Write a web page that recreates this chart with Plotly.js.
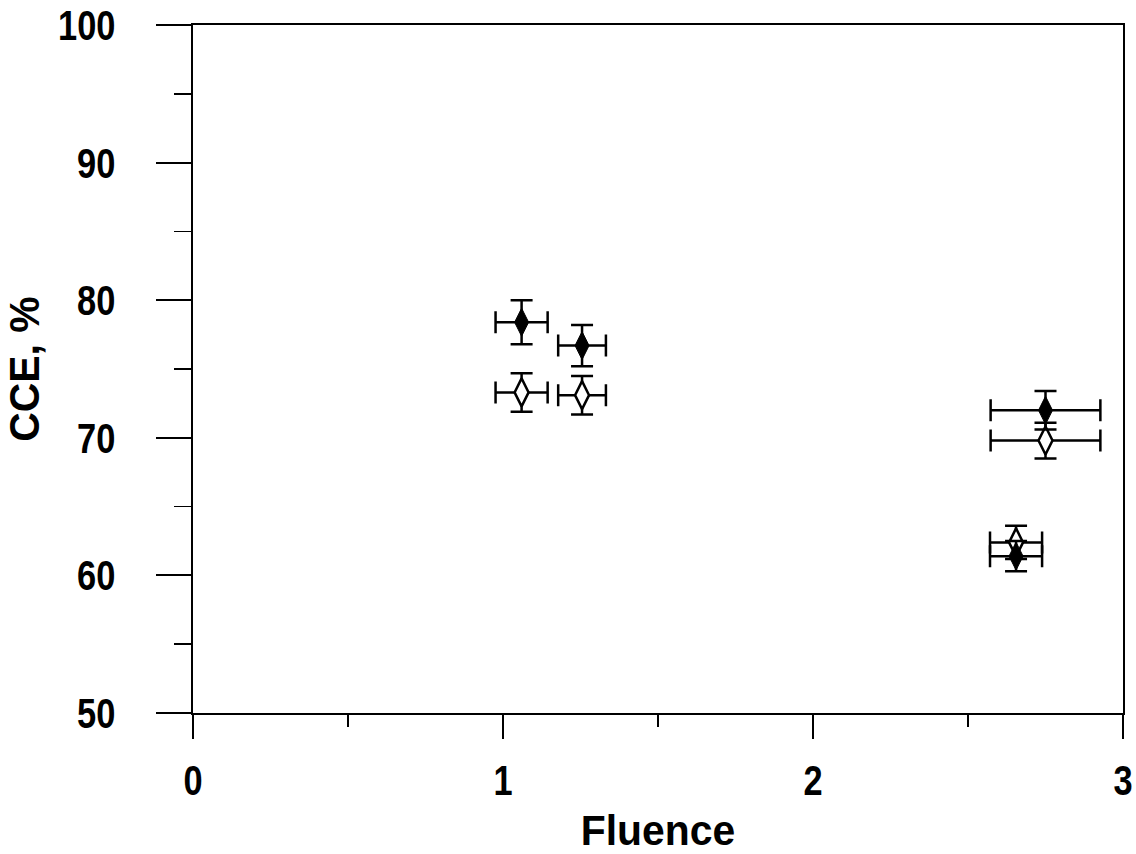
<!DOCTYPE html>
<html>
<head>
<meta charset="utf-8">
<script src="https://cdn.plot.ly/plotly-3.0.1.min.js"></script>
<style>
html,body{margin:0;padding:0;background:#fff;}
#chart{width:1136px;height:854px;}
</style>
</head>
<body>
<div id="chart"></div>
<script>
// Data
const fluenceFilled = [1.06, 1.255, 2.75, 2.655];
const cceFilled     = [78.4, 76.7, 72.0, 61.4];
const cceErrFilled  = [1.6, 1.5, 1.4, 1.1];
const fluenceOpen   = [1.06, 1.255, 2.75, 2.655];
const cceOpen       = [73.3, 73.1, 69.8, 62.4];
const cceErrOpen    = [1.4, 1.4, 1.3, 1.2];
const fluenceErr    = [0.084, 0.077, 0.177, 0.084];
const xTicks = [0, 1, 2, 3];
const yTicks = [50, 60, 70, 80, 90, 100];

const FONT = "'Liberation Sans', Arial, sans-serif";

function err(arr){ return {type:'data', array:arr, visible:true, color:'#000', thickness:2.5, width:11}; }

const traces = [
  {
    x: fluenceOpen, y: cceOpen, type:'scatter', mode:'markers', name:'open',
    marker:{symbol:'diamond-tall', size:20, color:'#fff', line:{color:'#000', width:2.5}},
    error_x: err(fluenceErr), error_y: err(cceErrOpen), showlegend:false
  },
  {
    x: fluenceFilled, y: cceFilled, type:'scatter', mode:'markers', name:'filled',
    marker:{symbol:'diamond-tall', size:20, color:'#000', line:{color:'#000', width:1}},
    error_x: err(fluenceErr), error_y: err(cceErrFilled), showlegend:false
  }
];

const layout = {
  width:1136, height:854,
  margin:{l:193, r:13, t:25, b:141},
  paper_bgcolor:'#fff', plot_bgcolor:'#fff',
  showlegend:false,
  font:{family:FONT, color:'#000'},
  xaxis:{
    range:[0,3], tickvals:xTicks, ticktext:xTicks.map(String),
    showline:true, linecolor:'#000', linewidth:2, mirror:true,
    ticks:'outside', ticklen:24, tickwidth:2, tickcolor:'#000',
    minor:{dtick:0.5, ticks:'outside', ticklen:12, tickwidth:1.5, tickcolor:'#000', showgrid:false},
    showgrid:false, zeroline:false,
    ticklabelstandoff:4,
    tickfont:{family:FONT, size:43, weight:'bold', color:'#000'},
    title:{text:'Fluence', font:{family:FONT, size:43, weight:'bold', color:'#000'}, standoff:14}
  },
  yaxis:{
    range:[50,100], tickvals:yTicks, ticktext:yTicks.map(String),
    showline:true, linecolor:'#000', linewidth:2, mirror:true,
    ticks:'outside', ticklen:35, tickwidth:2, tickcolor:'#000',
    minor:{dtick:5, ticks:'outside', ticklen:17, tickwidth:1.5, tickcolor:'#000', showgrid:false},
    showgrid:false, zeroline:false,
    ticklabelstandoff:32,
    tickfont:{family:FONT, size:43, weight:'bold', color:'#000'},
    title:{text:'CCE, %', font:{family:FONT, size:43, weight:'bold', color:'#000'}, standoff:10}
  },
  shapes:[
    {type:'line', xref:'paper', yref:'paper', x0:-0.037, x1:0, y0:1, y1:1, line:{color:'#000', width:2}},
    {type:'line', xref:'paper', yref:'paper', x0:-0.033, x1:0, y0:0, y1:0, line:{color:'#000', width:2}}
  ]
};

Plotly.newPlot('chart', traces, layout, {displayModeBar:false, staticPlot:true}).then(function(gd){
  // condense the bold labels to match the narrow typeface of the reference
  function squeeze(selector, f){
    gd.querySelectorAll(selector).forEach(function(el){
      const w = el.getComputedTextLength();
      el.setAttribute('textLength', (w*f).toFixed(1));
      el.setAttribute('lengthAdjust', 'spacingAndGlyphs');
    });
  }
  squeeze('.xtick text, .ytick text', 0.8);
  squeeze('.g-xtitle text, .g-ytitle text', 0.95);
});
</script>
</body>
</html>
